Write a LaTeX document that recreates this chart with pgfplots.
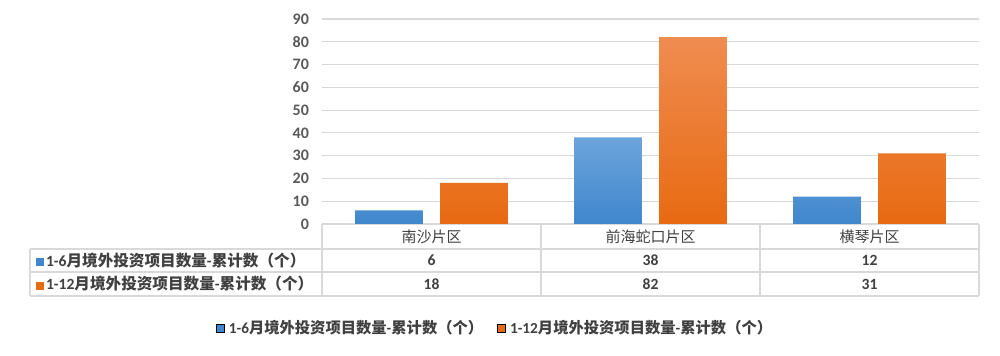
\documentclass[border=0pt]{standalone}
\usepackage{pgfplots}
\pgfplotsset{compat=1.18}
\usepackage{fontspec}
\setmainfont{Carlito}
\newfontfamily\cjk{Noto Sans CJK SC}
\definecolor{bluetop}{HTML}{6CA4DC}
\definecolor{bluebot}{HTML}{4087CD}
\definecolor{orgtop}{HTML}{EF8C50}
\definecolor{orgbot}{HTML}{E86A12}
\definecolor{gridc}{HTML}{D9D9D9}
\definecolor{tickc}{HTML}{595959}
\definecolor{txtc}{HTML}{404040}
\newcommand\tfs{\fontsize{7.8}{8}\selectfont}
\newcommand\lfs{\fontsize{7.65}{8}\selectfont}
\begin{document}
\begin{tikzpicture}
\begin{scope}[x=0.5pt,y=-0.5pt]
\path (0,0) rectangle (1000,356);
% table lines
\draw[gridc,line width=0.6pt] (322,224) -- (979,224);
\draw[gridc,line width=0.6pt] (30,249) -- (979,249);
\draw[gridc,line width=0.6pt] (30,272) -- (979,272);
\draw[gridc,line width=0.6pt] (30,296) -- (979,296);
\draw[gridc,line width=0.6pt] (30,249) -- (30,296);
\foreach \xx in {322,541,760,979} \draw[gridc,line width=0.6pt] (\xx,224) -- (\xx,296);
% category labels
\node[font=\cjk\fontsize{7.5}{8}\selectfont,text=txtc] at (431.5,236.5) {南沙片区};
\node[font=\cjk\fontsize{7.5}{8}\selectfont,text=txtc] at (650.5,236.5) {前海蛇口片区};
\node[font=\cjk\fontsize{7.5}{8}\selectfont,text=txtc] at (869.5,236.5) {横琴片区};
% row headers
\node[anchor=west,inner sep=0pt] at (36,260.5) {\textcolor{bluebot}{\rule{4pt}{4pt}}\hspace{0.8pt}\textcolor{txtc}{\tfs\bfseries 1-6\cjk 月境外投资项目数量\bfseries\rmfamily -\cjk 累计数（个）}};
\node[anchor=west,inner sep=0pt] at (36,284) {\textcolor{orgbot}{\rule{4pt}{4pt}}\hspace{0.8pt}\textcolor{txtc}{\tfs\bfseries 1-12\cjk 月境外投资项目数量\bfseries\rmfamily -\cjk 累计数（个）}};
% values
\foreach \xx/\v in {431.5/6,650.5/38,869.5/12} \node[font=\fontsize{7.8}{8}\selectfont\bfseries,text=txtc] at (\xx,260.5) {\v};
\foreach \xx/\v in {431.5/18,650.5/82,869.5/31} \node[font=\fontsize{7.8}{8}\selectfont\bfseries,text=txtc] at (\xx,284) {\v};
\end{scope}
\begin{axis}[
  at={(161pt,-112pt)}, anchor=south west,
  width=328.5pt, height=102.5pt, scale only axis,
  xmin=-0.5, xmax=2.5, ymin=0, ymax=90,
  ytick={0,10,...,90},
  xtick=\empty,
  axis line style={draw=none},
  ymajorgrids, grid style={gridc,line width=0.6pt},
  major tick length=0pt,
  yticklabel style={font=\fontsize{8}{9}\selectfont\bfseries,text=tickc,xshift=-3pt},
  /pgf/number format/assume math mode=true,
  ybar, bar width=0.31,
  clip=false,
  legend style={at={(0.265,-0.508)},anchor=center,draw=none,fill=none,
    legend columns=2,text=txtc,
    /tikz/every even column/.append style={column sep=5pt},
    inner sep=0pt},
  legend image code/.code={\fill[#1] (0pt,-2pt) rectangle (4pt,2pt);},
]
\addplot[bar shift=-0.194, draw=none, top color=bluetop, bottom color=bluebot, forget plot]
  coordinates {(0,6) (1,38) (2,12)};
\addplot[bar shift=0.194, draw=none, top color=orgtop, bottom color=orgbot, forget plot]
  coordinates {(0,18) (1,82) (2,31)};
\addlegendimage{fill=bluebot}
\addlegendentry{\lfs\bfseries 1-6\cjk 月境外投资项目数量\rmfamily\bfseries -\cjk 累计数（个）}
\addlegendimage{fill=orgbot}
\addlegendentry{\lfs\bfseries 1-12\cjk 月境外投资项目数量\rmfamily\bfseries -\cjk 累计数（个）}
\end{axis}
\end{tikzpicture}
\end{document}
